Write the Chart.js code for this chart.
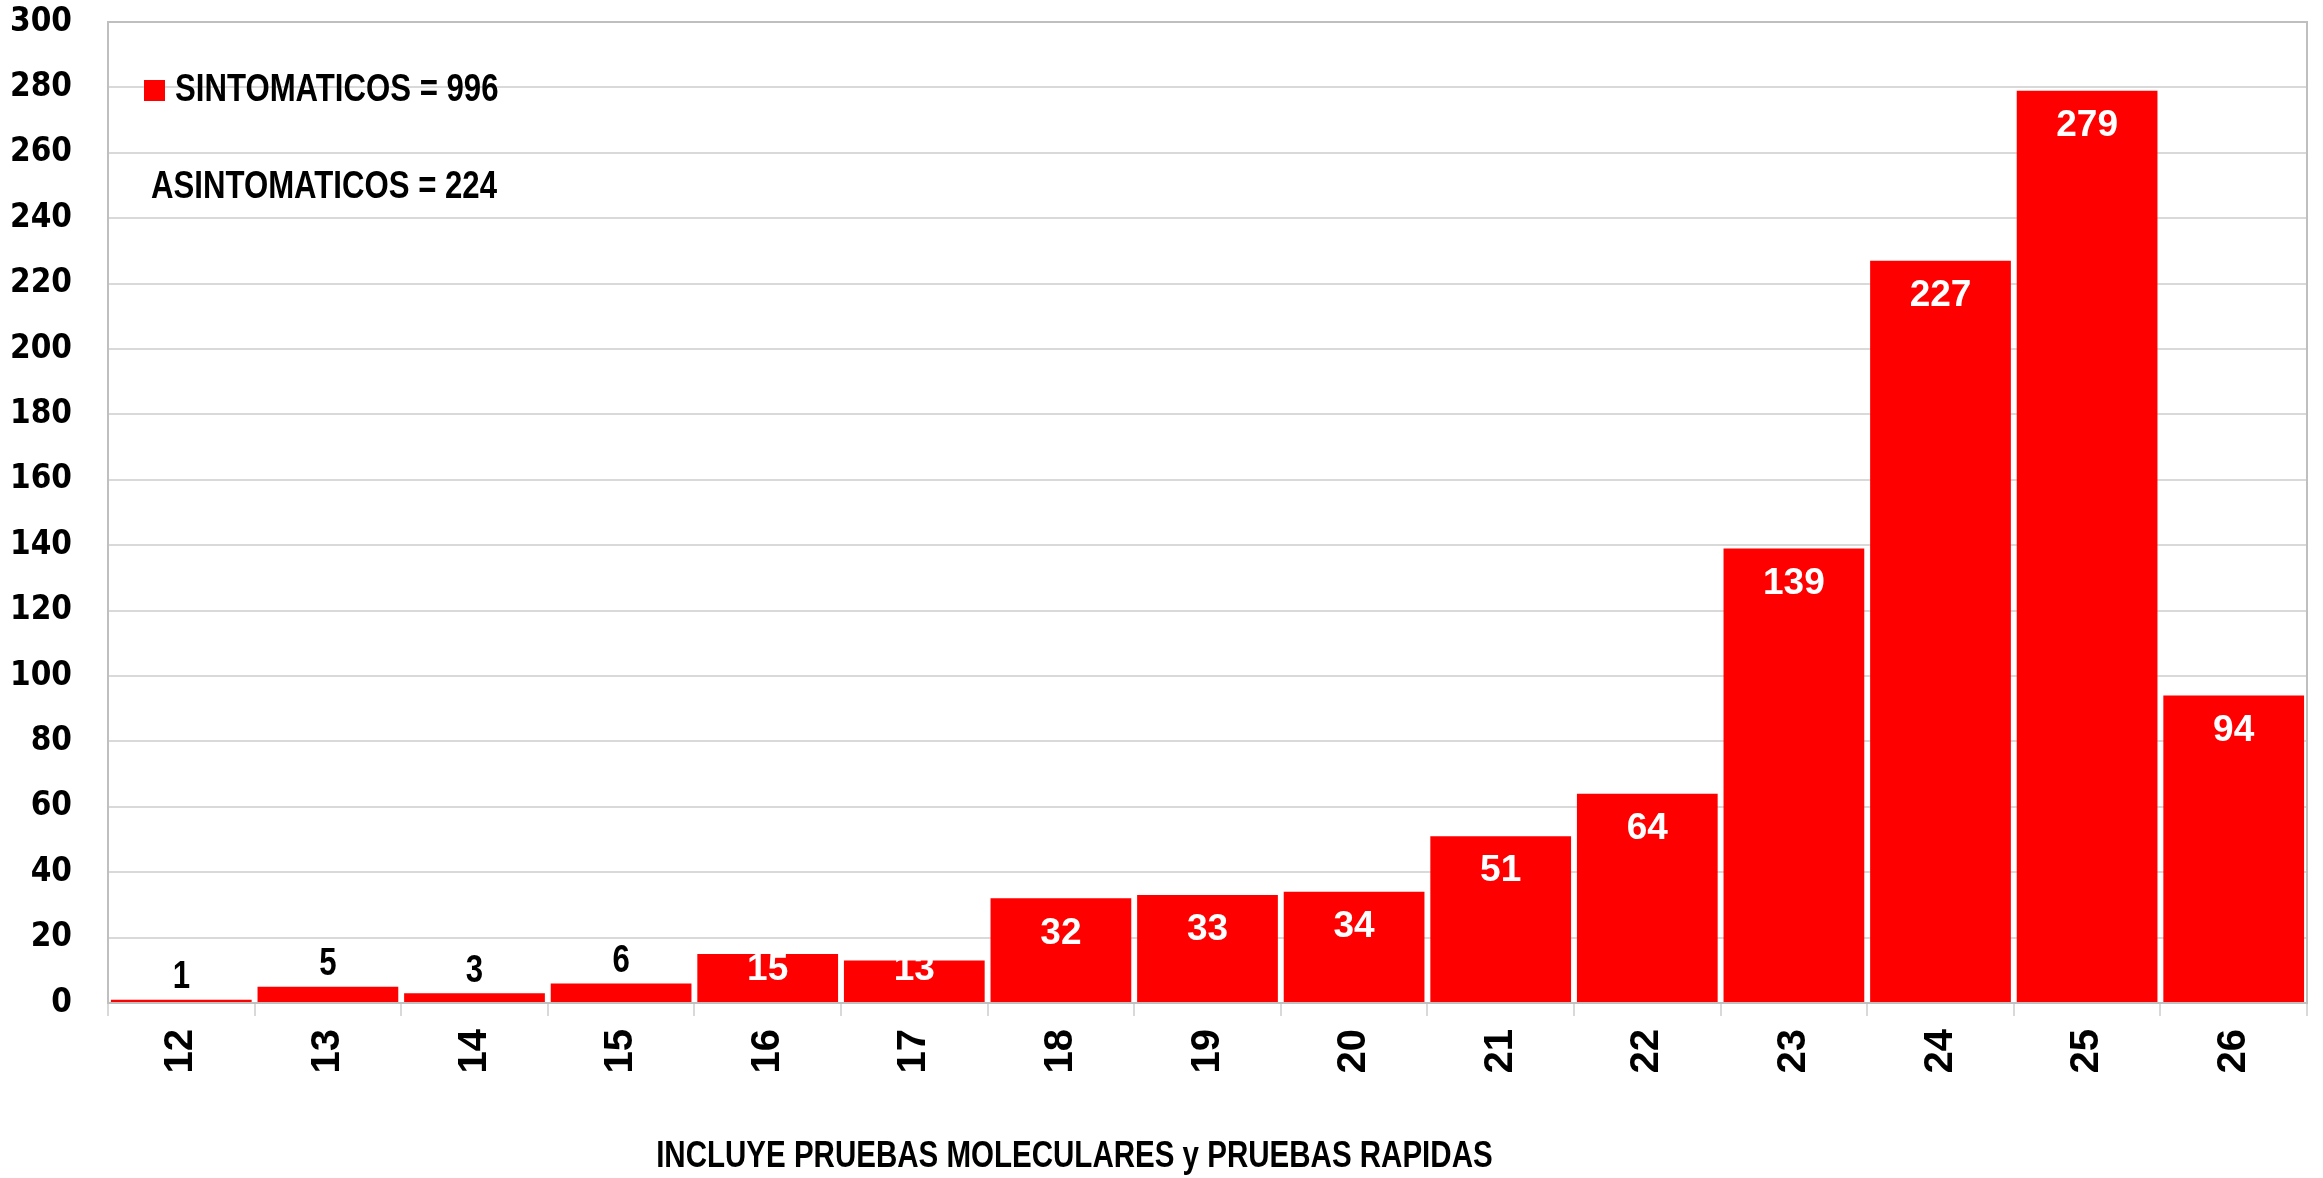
<!DOCTYPE html>
<html>
<head>
<meta charset="utf-8">
<script src="https://cdn.jsdelivr.net/npm/chart.js@4.4.0/dist/chart.umd.min.js"></script>
<style>
  html, body { margin: 0; padding: 0; background: #fff; }
  #wrap { width: 2323px; height: 1178px; }
</style>
</head>
<body>
<div id="wrap"><canvas id="myChart" width="2323" height="1178"></canvas></div>
<script>
// semanas epidemiologicas
var semanas = ["12", "13", "14", "15", "16", "17", "18", "19", "20", "21", "22", "23", "24", "25", "26"];
var casos = [1, 5, 3, 6, 15, 13, 32, 33, 34, 51, 64, 139, 227, 279, 94];
var yTicks = [0, 20, 40, 60, 80, 100, 120, 140, 160, 180, 200, 220, 240, 260, 280, 300];
var serieNombre = "SINTOMATICOS = 996";
var notaAsint = "ASINTOMATICOS = 224";
var notaPie = "INCLUYE PRUEBAS MOLECULARES y PRUEBAS RAPIDAS";

var narrow = "'Liberation Sans Narrow', 'DejaVu Sans Condensed', sans-serif";
var arial = "'Liberation Sans', Arial, sans-serif";

// texto condensado (tipo Calibri) usando Liberation Sans escalado
function textoAngosto(ctx, txt, x, y, size, align) {
  var sx = 0.82;
  ctx.save();
  ctx.font = "bold " + size + "px " + arial;
  ctx.textBaseline = "middle";
  ctx.textAlign = "left";
  var w = ctx.measureText(txt).width * sx;
  var x0 = x;
  if (align === "center") x0 = x - w / 2;
  if (align === "right") x0 = x - w;
  ctx.translate(x0, y);
  ctx.scale(sx, 1);
  ctx.fillText(txt, 0, 0);
  ctx.restore();
}

// etiquetas de valor sobre / dentro de las barras
var valueLabels = {
  id: "valueLabels",
  afterDatasetsDraw: function(chart) {
    var ctx = chart.ctx;
    var meta = chart.getDatasetMeta(0);
    ctx.save();
    ctx.textAlign = "center";
    ctx.textBaseline = "middle";
    meta.data.forEach(function(bar, i) {
      var v = casos[i];
      if (v < 10) {
        ctx.fillStyle = "#000";
        textoAngosto(ctx, String(v), bar.x, bar.y - 22, 38, "center");
      } else {
        ctx.fillStyle = "#fff";
        ctx.font = "bold 37px " + arial;
        var cy = Math.min(bar.y + 35, bar.base - 32);
        ctx.fillText(String(v), bar.x, cy);
      }
    });
    ctx.restore();
  }
};

// borde del area, leyenda y textos
var extras = {
  id: "extras",
  beforeDatasetsDraw: function(chart) {
    var a = chart.chartArea, ctx = chart.ctx;
    ctx.save();
    ctx.strokeStyle = "#bfbfbf";
    ctx.lineWidth = 2;
    ctx.beginPath();
    ctx.moveTo(a.left, a.top);
    ctx.lineTo(a.right, a.top);
    ctx.lineTo(a.right, a.bottom);
    ctx.stroke();
    ctx.restore();
  },
  afterDraw: function(chart) {
    var a = chart.chartArea, ctx = chart.ctx;
    ctx.save();
    ctx.fillStyle = "#ff0000";
    ctx.fillRect(a.left + 36, a.top + 58, 21, 21);
    ctx.fillStyle = "#000";
    textoAngosto(ctx, serieNombre, a.left + 67, a.top + 69, 38, "left");
    textoAngosto(ctx, notaAsint, a.left + 43, a.top + 166, 38, "left");
    textoAngosto(ctx, notaPie, chart.width * 0.4625, chart.height - 21, 36, "center");
    ctx.restore();
  }
};

var ctx = document.getElementById("myChart");
var myChart = new Chart(ctx, {
  type: "bar",
  data: {
    labels: semanas,
    datasets: [{
      label: serieNombre,
      data: casos,
      backgroundColor: "#ff0000",
      borderWidth: 0,
      barPercentage: 0.96,
      categoryPercentage: 1.0
    }]
  },
  options: {
    responsive: false,
    animation: false,
    layout: { padding: { top: 22, right: 16, left: 0, bottom: 75 } },
    plugins: {
      legend: { display: false },
      tooltip: { enabled: false },
      title: { display: false }
    },
    scales: {
      x: {
        afterFit: function(s) {
          s.height = 100;
          s.paddingLeft = 0;
          s.paddingRight = 0;
        },
        grid: {
          offset: true,
          drawOnChartArea: false,
          drawTicks: true,
          tickLength: 13,
          color: "#d9d9d9",
          lineWidth: 2
        },
        border: { color: "#bfbfbf", width: 2 },
        ticks: {
          minRotation: 90,
          maxRotation: 90,
          padding: 13,
          color: "#000",
          font: { family: arial, size: 40, weight: "bold" }
        }
      },
      y: {
        min: 0,
        max: 300,
        afterFit: function(s) {
          s.width = 108;
          s.paddingTop = 0;
          s.paddingBottom = 0;
        },
        afterBuildTicks: function(s) {
          s.ticks = yTicks.map(function(v) { return { value: v }; });
        },
        grid: {
          drawTicks: false,
          color: "#d9d9d9",
          lineWidth: 2
        },
        border: { color: "#bfbfbf", width: 2 },
        ticks: {
          padding: 36,
          color: "#000",
          font: { family: narrow, size: 33, weight: "bold" }
        }
      }
    }
  },
  plugins: [valueLabels, extras]
});
</script>
</body>
</html>
